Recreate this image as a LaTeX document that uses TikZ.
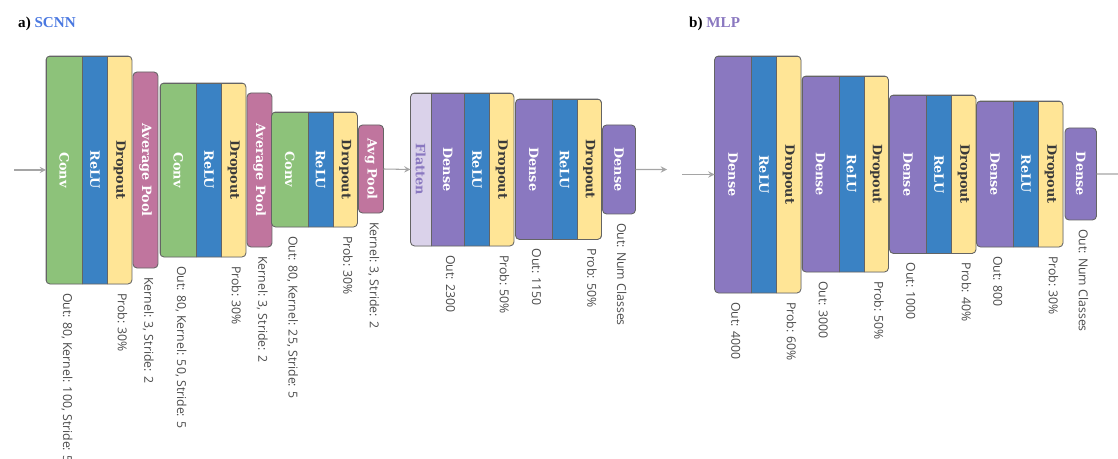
\documentclass[tikz,border=0pt]{standalone}
\usepackage{fontspec}
\usepackage{graphicx}
\usepackage{tikz}
\usetikzlibrary{positioning}
\newfontfamily\blockfont{DejaVu Serif}
\newfontfamily\lblfont{Open Sans}
\newfontfamily\headfont{Liberation Serif}

\definecolor{convgreen}{RGB}{141,194,122}
\definecolor{relublue}{RGB}{58,130,196}
\definecolor{dropyellow}{RGB}{255,229,150}
\definecolor{poolpink}{RGB}{192,117,158}
\definecolor{densepurple}{RGB}{138,120,192}
\definecolor{flatlav}{RGB}{218,210,234}
\definecolor{scnnblue}{RGB}{74,120,224}
\definecolor{edgegray}{RGB}{100,100,100}
\definecolor{arrowgray}{RGB}{165,165,165}
\definecolor{lblgray}{RGB}{75,75,75}
\definecolor{droptext}{RGB}{58,58,58}

\newcommand{\vt}[1]{\rotatebox{-90}{#1}}

\tikzset{
  blk/.style={draw=edgegray, line width=0.5pt, inner sep=0pt, outer sep=0pt, text=white,
    font=\blockfont\bfseries\fontsize{7.3}{8}\selectfont},
  conv/.style={blk, fill=convgreen, minimum width=0.73cm},
  relu/.style={blk, fill=relublue, minimum width=0.5cm},
  drop/.style={blk, fill=dropyellow, text=droptext, minimum width=0.49cm},
  pool/.style={blk, fill=poolpink, minimum width=0.5cm, rounded corners=2.3pt},
  dense/.style={blk, fill=densepurple, minimum width=0.74cm},
  flat/.style={blk, fill=flatlav, text=densepurple, minimum width=0.41cm},
  grpframe/.style={draw=edgegray, line width=0.5pt, rounded corners=2.3pt},
  lbl/.style={rotate=-90, anchor=west, inner sep=0pt, text=lblgray,
    font=\lblfont\fontsize{7}{8}\selectfont},
  arr/.style={draw=arrowgray, line width=0.6pt, -{stealth[scale=1.5]}},
  headline/.style={anchor=base west, font=\headfont\bfseries\fontsize{8.6}{10}\selectfont},
}

\begin{document}
\begin{tikzpicture}[x=0.02cm, y=-0.02cm]
\useasboundingbox (0,0) rectangle (1118,459);

\node[headline] (titleA) at (12,28) {a) \textcolor{scnnblue}{SCNN}};
\node[headline] (titleB) at (683,28) {b) \textcolor{densepurple}{MLP}};

% SCNN conv stages
\foreach \i/\x/\ya/\yb/\pa/\pb/\k/\pt in {1/46/56/284/72/268/100/Average Pool, 2/160/83/257/93/247/50/Average Pool, 3/271.5/112/227/125/213/25/Avg Pool}{
  \begin{scope}
    \clip[rounded corners=2.3pt] (\x,\ya) rectangle (\x+86,\yb);
    \node[conv, anchor=north west, minimum height=(\yb-\ya)*0.02cm] (conv\i) at (\x,\ya) {\vt{Conv}};
    \node[relu, right=0pt of conv\i, minimum height=(\yb-\ya)*0.02cm] (relu\i) {\vt{ReLU}};
    \node[drop, right=0pt of relu\i, minimum height=(\yb-\ya)*0.02cm] (drop\i) {\vt{Dropout}};
  \end{scope}
  \draw[grpframe] (conv\i.north west) rectangle (drop\i.south east);
  \node[pool, anchor=north west, minimum height=(\pb-\pa)*0.02cm] (pool\i) at (\x+87,\pa) {\vt{\pt}};
  \node[lbl] at ([xshift=1.5pt,yshift=-5pt]conv\i.south) {Out: 80, Kernel: \k, Stride: 5};
  \node[lbl] at ([xshift=1.5pt,yshift=-5pt]drop\i.south) {Prob: 30\%};
  \node[lbl] at ([xshift=1.5pt,yshift=-5pt]pool\i.south) {Kernel: 3, Stride: 2};
}

% SCNN dense head
\begin{scope}
  \clip[rounded corners=2.3pt] (410.5,93) rectangle (514,246);
  \node[flat, anchor=north west, minimum height=3.06cm] (flat) at (410.5,93) {\vt{Flatten}};
  \node[dense, right=0pt of flat, minimum width=0.67cm, minimum height=3.06cm] (sden1) {\vt{Dense}};
  \node[relu, right=0pt of sden1, minimum height=3.06cm] (srelu1) {\vt{ReLU}};
  \node[drop, right=0pt of srelu1, minimum height=3.06cm] (sdrop1) {\vt{Dropout}};
\end{scope}
\draw[grpframe] (flat.north west) rectangle (sdrop1.south east);
\begin{scope}
  \clip[rounded corners=2.3pt] (515.5,99) rectangle (602,239.5);
  \node[dense, anchor=north west, minimum width=0.73cm, minimum height=2.81cm] (sden2) at (515.5,99) {\vt{Dense}};
  \node[relu, right=0pt of sden2, minimum height=2.81cm] (srelu2) {\vt{ReLU}};
  \node[drop, right=0pt of srelu2, minimum height=2.81cm] (sdrop2) {\vt{Dropout}};
\end{scope}
\draw[grpframe] (sden2.north west) rectangle (sdrop2.south east);
\node[dense, rounded corners=2.3pt, anchor=north west, minimum width=0.66cm, minimum height=1.78cm] (sout) at (602.5,125) {\vt{Dense}};
\node[lbl] at ([xshift=1.5pt,yshift=-5pt]sden1.south) {Out: 2300};
\node[lbl] at ([xshift=1.5pt,yshift=-5pt]sdrop1.south) {Prob: 50\%};
\node[lbl] at ([xshift=1.5pt,yshift=-5pt]sden2.south) {Out: 1150};
\node[lbl] at ([xshift=1.5pt,yshift=-5pt]sdrop2.south) {Prob: 50\%};
\node[lbl] at ([xshift=1.5pt,yshift=-5pt]sout.south) {Out: Num Classes};

% MLP
\foreach \i/\x/\ya/\yb/\o/\p in {1/714.5/56/293/4000/60, 2/802/76/272/3000/50, 3/889.5/95/253.5/1000/40, 4/976.5/101/247/800/30}{
  \begin{scope}
    \clip[rounded corners=2.3pt] (\x,\ya) rectangle (\x+86.5,\yb);
    \node[dense, anchor=north west, minimum height=(\yb-\ya)*0.02cm] (mden\i) at (\x,\ya) {\vt{Dense}};
    \node[relu, right=0pt of mden\i, minimum height=(\yb-\ya)*0.02cm] (mrelu\i) {\vt{ReLU}};
    \node[drop, right=0pt of mrelu\i, minimum height=(\yb-\ya)*0.02cm] (mdrop\i) {\vt{Dropout}};
  \end{scope}
  \draw[grpframe] (mden\i.north west) rectangle (mdrop\i.south east);
  \node[lbl] at ([xshift=1.5pt,yshift=-5pt]mden\i.south) {Out: \o};
  \node[lbl] at ([xshift=1.5pt,yshift=-5pt]mdrop\i.south) {Prob: \p\%};
}
\node[dense, rounded corners=2.3pt, anchor=north west, minimum width=0.63cm, minimum height=1.84cm] (mout) at (1065,128) {\vt{Dense}};
\node[lbl] at ([xshift=1.5pt,yshift=-5pt]mout.south) {Out: Num Classes};

% flow arrows
\coordinate (inA) at (14,170);
\coordinate (outA) at (667,169.5);
\coordinate (inB) at (682,174.5);
\coordinate (outB) at (1118,174);
\draw[arr] (inA) -- (conv1.west);
\draw[arr] (pool3.east) -- (flat.west);
\draw[arr] (sout.east) -- (outA);
\draw[arr] (inB) -- (mden1.west);
\draw[arr, -] (mout.east) -- (outB);
\end{tikzpicture}
\end{document}
